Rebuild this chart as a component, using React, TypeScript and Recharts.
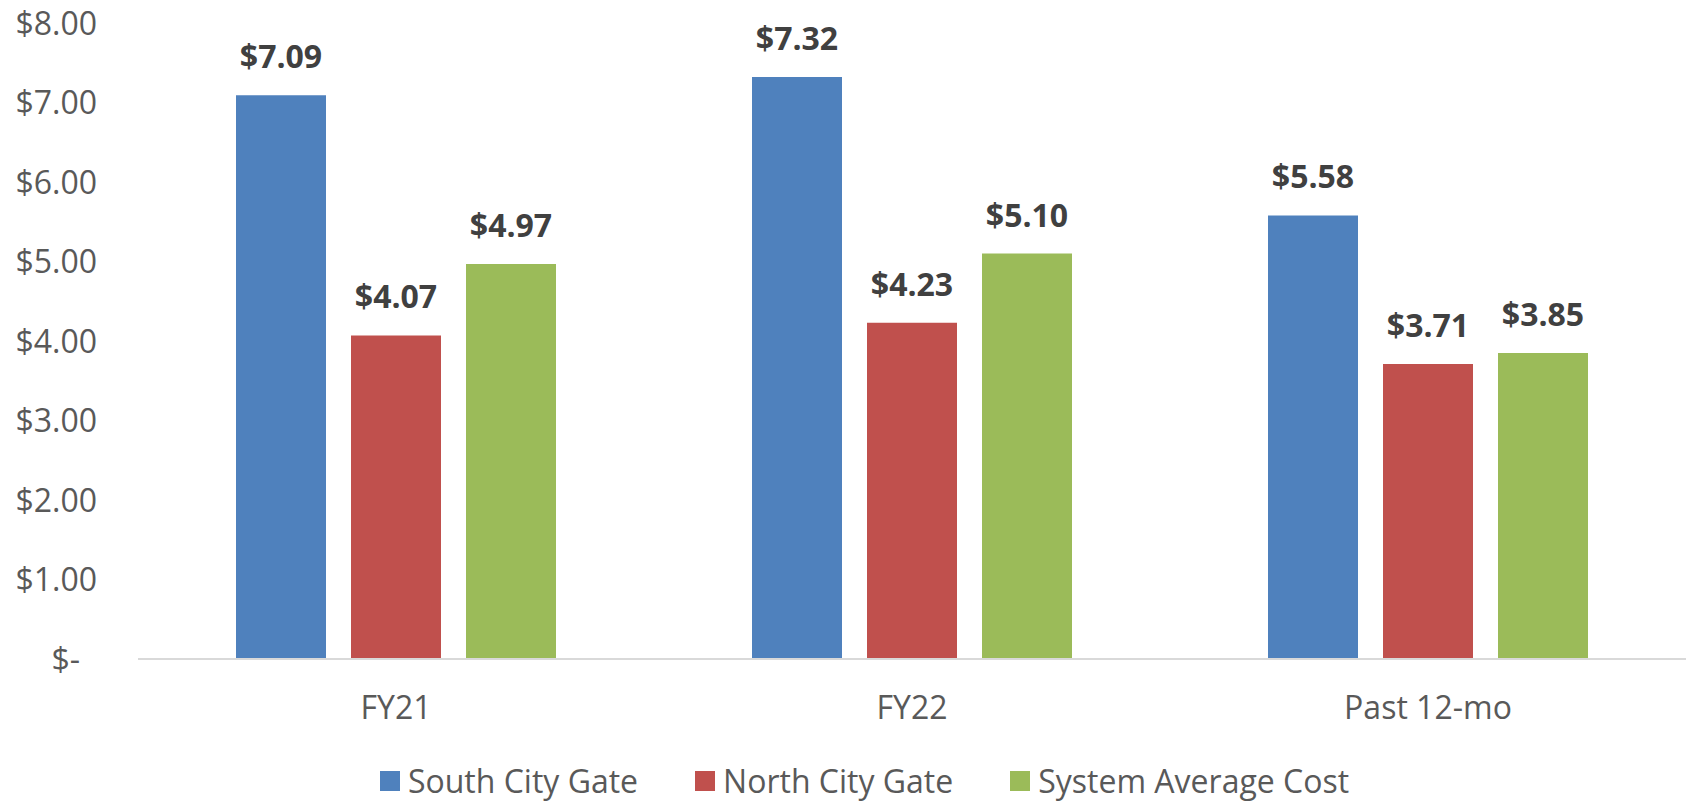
import React from 'react';
import { BarChart, Bar, XAxis, YAxis, Legend, LabelList } from 'recharts';

const categories = ['FY21', 'FY22', 'Past 12-mo'];
const southCityGate = [7.09, 7.32, 5.58];
const northCityGate = [4.07, 4.23, 3.71];
const systemAverage = [4.97, 5.1, 3.85];
const yTicks = [0, 1, 2, 3, 4, 5, 6, 7, 8];

const series = [
  { key: 'south', name: 'South City Gate', color: '#4F81BD' },
  { key: 'north', name: 'North City Gate', color: '#C0504D' },
  { key: 'system', name: 'System Average Cost', color: '#9BBB59' },
];

const data = categories.map((c, i) => ({
  name: c,
  south: southCityGate[i],
  north: northCityGate[i],
  system: systemAverage[i],
}));

const FONT = '"Open Sans", Calibri, sans-serif';
const FS = 32;

// accounting-style tick: "$-" sits a bit left of the others
const YTick = (props: any) => {
  const { x, y, payload } = props;
  const v = payload.value as number;
  const isZero = v === 0;
  return (
    <text
      x={isZero ? x - 17 : x}
      y={y}
      dy="0.36em"
      textAnchor="end"
      fill="#595959"
      fontSize={FS}
      fontFamily={FONT}
    >
      {isZero ? '$-' : `$${v.toFixed(2)}`}
    </text>
  );
};

const LegendContent = () => (
  <div
    style={{
      display: 'flex',
      justifyContent: 'center',
      alignItems: 'center',
      gap: 57,
      paddingLeft: 40,
      fontFamily: FONT,
      fontSize: FS,
      lineHeight: '44px',
      color: '#595959',
    }}
  >
    {series.map((s) => (
      <div key={s.key} style={{ display: 'flex', alignItems: 'center' }}>
        <span style={{ width: 20, height: 20, background: s.color, display: 'inline-block', marginRight: 8 }} />
        <span>{s.name}</span>
      </div>
    ))}
  </div>
);

export default function App() {
  return (
    <div style={{ position: 'absolute', left: 0, top: 0, background: '#fff' }}>
      <BarChart
        width={1689}
        height={803}
        data={data}
        margin={{ top: 23, right: 3, left: 0, bottom: 0 }}
        barGap={25}
        barSize={90}
      >
        <XAxis
          dataKey="name"
          tickLine={false}
          axisLine={{ stroke: '#D9D9D9', strokeWidth: 2 }}
          tickSize={0}
          tickMargin={37}
          height={100}
          tick={{ fill: '#595959', fontSize: FS, fontFamily: FONT }}
        />
        <YAxis
          domain={[0, 8]}
          ticks={yTicks}
          width={138}
          axisLine={false}
          tickLine={false}
          tickSize={0}
          tickMargin={41}
          tick={<YTick />}
        />
        <Legend
          verticalAlign="bottom"
          content={<LegendContent />}
          wrapperStyle={{ left: 0, width: 1689, bottom: 0 }}
        />
        {series.map((s) => (
          <Bar key={s.key} dataKey={s.key} name={s.name} fill={s.color} isAnimationActive={false}>
            <LabelList
              dataKey={s.key}
              position="top"
              offset={27}
              formatter={(v: any) => `$${Number(v).toFixed(2)}`}
              style={{ fill: '#404040', fontSize: FS, fontWeight: 700, fontFamily: FONT }}
            />
          </Bar>
        ))}
      </BarChart>
    </div>
  );
}
